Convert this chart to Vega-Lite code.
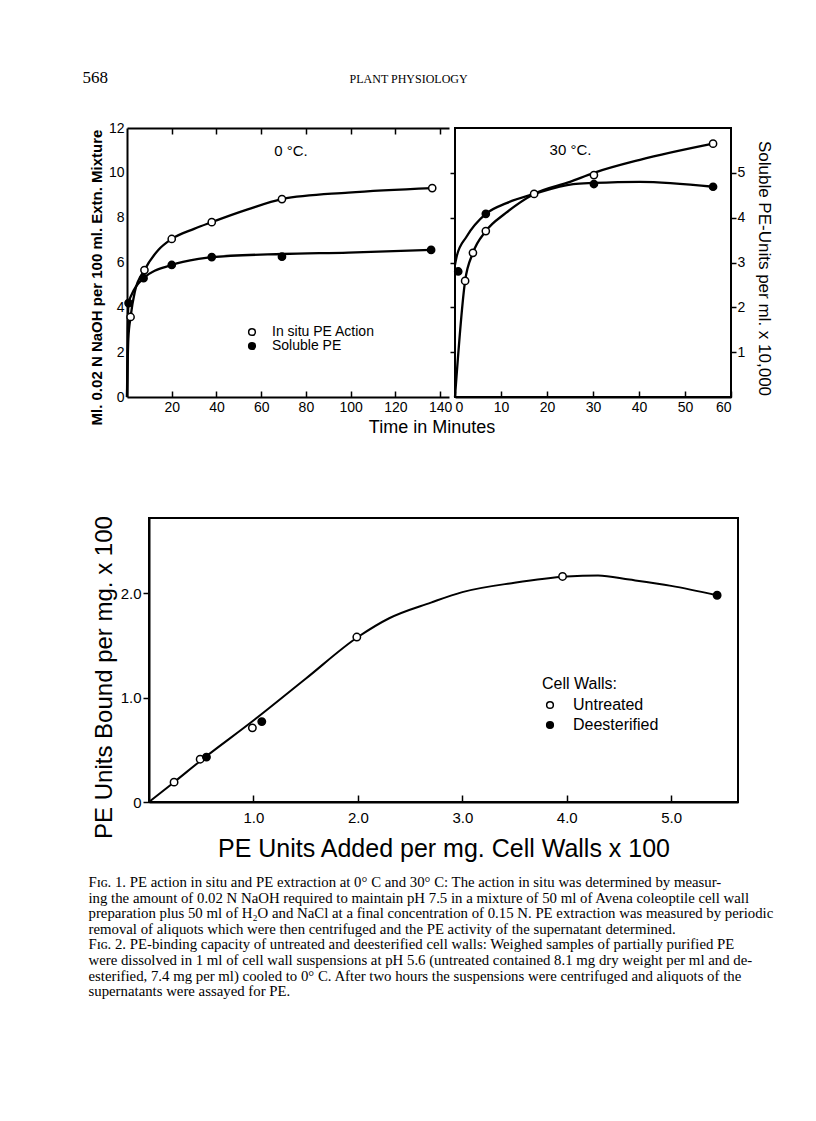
{
  "$schema": "https://vega.github.io/schema/vega-lite/v6.json",
  "background": "white",
  "padding": {"left": 82, "top": 69, "right": 0, "bottom": 0},
  "title": {"text": "568", "anchor": "start", "frame": "bounds", "font": "Liberation Serif", "fontSize": 17, "fontWeight": "normal", "color": "black", "offset": -14, "dx": -5},
  "datasets": {
    "fig1pts": [
      {"panel": "0", "series": "In situ PE Action", "t": 1.6, "y": 3.57},
      {"panel": "0", "series": "In situ PE Action", "t": 7.8, "y": 5.66},
      {"panel": "0", "series": "In situ PE Action", "t": 20, "y": 7.05},
      {"panel": "0", "series": "In situ PE Action", "t": 37.9, "y": 7.8},
      {"panel": "0", "series": "In situ PE Action", "t": 69.3, "y": 8.83},
      {"panel": "0", "series": "In situ PE Action", "t": 136.5, "y": 9.32},
      {"panel": "0", "series": "Soluble PE", "t": 0.7, "y": 4.19},
      {"panel": "0", "series": "Soluble PE", "t": 7.4, "y": 5.3},
      {"panel": "0", "series": "Soluble PE", "t": 20, "y": 5.89},
      {"panel": "0", "series": "Soluble PE", "t": 37.9, "y": 6.24},
      {"panel": "0", "series": "Soluble PE", "t": 69.3, "y": 6.26},
      {"panel": "0", "series": "Soluble PE", "t": 136, "y": 6.56},
      {"panel": "30", "series": "In situ PE Action", "t": 2.2, "y": 5.18},
      {"panel": "30", "series": "In situ PE Action", "t": 3.9, "y": 6.43},
      {"panel": "30", "series": "In situ PE Action", "t": 6.7, "y": 7.4},
      {"panel": "30", "series": "In situ PE Action", "t": 17.2, "y": 9.06},
      {"panel": "30", "series": "In situ PE Action", "t": 30.2, "y": 9.9},
      {"panel": "30", "series": "In situ PE Action", "t": 56.1, "y": 11.3},
      {"panel": "30", "series": "Soluble PE", "t": 0.7, "y": 5.6},
      {"panel": "30", "series": "Soluble PE", "t": 6.7, "y": 8.17},
      {"panel": "30", "series": "Soluble PE", "t": 30.2, "y": 9.5},
      {"panel": "30", "series": "Soluble PE", "t": 56.1, "y": 9.38}
    ],
    "fig1curves": [
      {"panel": "0", "series": "In situ PE Action", "t": 0, "y": 0},
      {"panel": "0", "series": "In situ PE Action", "t": 0.6, "y": 2.6},
      {"panel": "0", "series": "In situ PE Action", "t": 1.6, "y": 3.57},
      {"panel": "0", "series": "In situ PE Action", "t": 3.5, "y": 4.7},
      {"panel": "0", "series": "In situ PE Action", "t": 7.8, "y": 5.66},
      {"panel": "0", "series": "In situ PE Action", "t": 14, "y": 6.56},
      {"panel": "0", "series": "In situ PE Action", "t": 20, "y": 7.05},
      {"panel": "0", "series": "In situ PE Action", "t": 30, "y": 7.5},
      {"panel": "0", "series": "In situ PE Action", "t": 37.9, "y": 7.8},
      {"panel": "0", "series": "In situ PE Action", "t": 54, "y": 8.37},
      {"panel": "0", "series": "In situ PE Action", "t": 69.3, "y": 8.83},
      {"panel": "0", "series": "In situ PE Action", "t": 99, "y": 9.12},
      {"panel": "0", "series": "In situ PE Action", "t": 136.5, "y": 9.32},
      {"panel": "0", "series": "Soluble PE", "t": 0, "y": 0},
      {"panel": "0", "series": "Soluble PE", "t": 0.3, "y": 3.0},
      {"panel": "0", "series": "Soluble PE", "t": 0.7, "y": 4.19},
      {"panel": "0", "series": "Soluble PE", "t": 2, "y": 4.55},
      {"panel": "0", "series": "Soluble PE", "t": 7.4, "y": 5.3},
      {"panel": "0", "series": "Soluble PE", "t": 20, "y": 5.89},
      {"panel": "0", "series": "Soluble PE", "t": 32, "y": 6.16},
      {"panel": "0", "series": "Soluble PE", "t": 37.9, "y": 6.24},
      {"panel": "0", "series": "Soluble PE", "t": 69.3, "y": 6.38},
      {"panel": "0", "series": "Soluble PE", "t": 99, "y": 6.44},
      {"panel": "0", "series": "Soluble PE", "t": 136, "y": 6.56},
      {"panel": "30", "series": "In situ PE Action", "t": 0, "y": 0},
      {"panel": "30", "series": "In situ PE Action", "t": 2.2, "y": 5.18},
      {"panel": "30", "series": "In situ PE Action", "t": 3.9, "y": 6.43},
      {"panel": "30", "series": "In situ PE Action", "t": 6.7, "y": 7.4},
      {"panel": "30", "series": "In situ PE Action", "t": 11, "y": 8.2},
      {"panel": "30", "series": "In situ PE Action", "t": 17.2, "y": 9.06},
      {"panel": "30", "series": "In situ PE Action", "t": 25, "y": 9.6},
      {"panel": "30", "series": "In situ PE Action", "t": 30.2, "y": 10.0},
      {"panel": "30", "series": "In situ PE Action", "t": 40.2, "y": 10.58},
      {"panel": "30", "series": "In situ PE Action", "t": 56.1, "y": 11.3},
      {"panel": "30", "series": "Soluble PE", "t": 0, "y": 5.9},
      {"panel": "30", "series": "Soluble PE", "t": 0.4, "y": 6.3},
      {"panel": "30", "series": "Soluble PE", "t": 2.5, "y": 7.15},
      {"panel": "30", "series": "Soluble PE", "t": 6.7, "y": 8.17},
      {"panel": "30", "series": "Soluble PE", "t": 11.2, "y": 8.65},
      {"panel": "30", "series": "Soluble PE", "t": 17.2, "y": 9.06},
      {"panel": "30", "series": "Soluble PE", "t": 25.7, "y": 9.5},
      {"panel": "30", "series": "Soluble PE", "t": 30.2, "y": 9.55},
      {"panel": "30", "series": "Soluble PE", "t": 40.2, "y": 9.6},
      {"panel": "30", "series": "Soluble PE", "t": 56.1, "y": 9.38}
    ],
    "fig2pts": [
      {"walls": "Untreated", "x": 0.24, "y": 0.19},
      {"walls": "Untreated", "x": 0.49, "y": 0.41},
      {"walls": "Untreated", "x": 0.99, "y": 0.71},
      {"walls": "Untreated", "x": 1.99, "y": 1.58},
      {"walls": "Untreated", "x": 3.96, "y": 2.16},
      {"walls": "Deesterified", "x": 0.55, "y": 0.43},
      {"walls": "Deesterified", "x": 1.08, "y": 0.77},
      {"walls": "Deesterified", "x": 5.44, "y": 1.98}
    ],
    "fig2curve": [
      {"x": 0, "y": 0},
      {"x": 0.24, "y": 0.19},
      {"x": 0.5, "y": 0.4},
      {"x": 1.0, "y": 0.78},
      {"x": 1.5, "y": 1.18},
      {"x": 2.0, "y": 1.58},
      {"x": 2.3, "y": 1.76},
      {"x": 2.7, "y": 1.91},
      {"x": 3.0, "y": 2.01},
      {"x": 3.5, "y": 2.1},
      {"x": 4.0, "y": 2.16},
      {"x": 4.3, "y": 2.17},
      {"x": 4.6, "y": 2.13},
      {"x": 5.0, "y": 2.07},
      {"x": 5.44, "y": 1.98}
    ],
    "none": []
  },
  "vconcat": [
    {
      "title": {"text": "PLANT PHYSIOLOGY", "anchor": "middle", "frame": "bounds", "font": "Liberation Serif", "fontSize": 12, "fontWeight": "normal", "color": "black", "offset": 35, "dx": -23},
      "bounds": "flush",
      "spacing": 6,
      "resolve": {"scale": {"fill": "independent", "x": "independent", "y": "independent"}, "legend": {"fill": "independent"}},
      "hconcat": [
        {
          "width": 322,
          "height": 269,
          "title": {"text": "0 °C.", "orient": "top", "anchor": "middle", "frame": "group", "offset": -24, "dy": 21, "baseline": "middle", "fontSize": 15, "fontWeight": "normal", "dx": 3},
          "resolve": {"axis": {"x": "independent", "y": "independent"}},
          "layer": [
            {
              "data": {"name": "fig1curves"},
              "transform": [{"filter": "datum.panel == '0'"}],
              "mark": {"type": "line", "interpolate": "monotone", "color": "black", "strokeWidth": 2.3},
              "encoding": {
                "x": {"field": "t", "type": "quantitative", "scale": {"domain": [0, 144], "nice": false, "zero": false},
                  "axis": {"orient": "bottom", "values": [20, 40, 60, 80, 100, 120, 140], "tickSize": -6, "tickWidth": 1.5, "labelPadding": 9, "labelFontSize": 14, "domainWidth": 2, "title": "Time in Minutes", "titleX": 304.5, "titleFontSize": 18, "titleFontWeight": "normal", "titlePadding": 4}},
                "y": {"field": "y", "type": "quantitative", "scale": {"domain": [0, 12], "nice": false},
                  "axis": {"orient": "left", "values": [0, 2, 4, 6, 8, 10, 12], "ticks": false, "labelPadding": 3, "labelFontSize": 14, "domainWidth": 2, "title": "Ml. 0.02 N NaOH per 100 ml. Extn. Mixture", "titleFontSize": 15, "titleFontWeight": "bold", "titleY": 149, "titlePadding": 4}},
                "detail": {"field": "series"}
              }
            },
            {
              "data": {"name": "fig1pts"},
              "transform": [{"filter": "datum.panel == '0'"}],
              "mark": {"type": "point", "shape": "circle", "filled": true, "size": 52, "stroke": "black", "strokeWidth": 1.5, "opacity": 1},
              "encoding": {
                "x": {"field": "t", "type": "quantitative",
                  "axis": {"orient": "top", "values": [20, 40, 60, 80, 100, 120, 140], "tickSize": -6, "tickWidth": 1.5, "labels": false, "domainWidth": 2, "title": null}},
                "y": {"field": "y", "type": "quantitative", "axis": null},
                "fill": {"field": "series", "type": "nominal", "scale": {"domain": ["In situ PE Action", "Soluble PE"], "range": ["white", "black"]},
                  "legend": {"orient": "none", "legendX": 118, "legendY": 197, "title": null, "labelFontSize": 14, "symbolType": "circle", "symbolSize": 45, "symbolStrokeColor": "black", "symbolStrokeWidth": 1.5, "labelOffset": 13, "rowPadding": -1.5}}
              }
            }
          ]
        },
        {
          "width": 276,
          "height": 269,
          "view": {"stroke": "black", "strokeWidth": 2},
          "title": {"text": "30 °C.", "orient": "top", "anchor": "middle", "frame": "group", "offset": -24, "dy": 13, "baseline": "middle", "fontSize": 15, "fontWeight": "normal", "dx": -22.5},
          "resolve": {"axis": {"x": "independent", "y": "independent"}},
          "layer": [
            {
              "data": {"name": "fig1curves"},
              "transform": [{"filter": "datum.panel == '30'"}],
              "mark": {"type": "line", "interpolate": "monotone", "color": "black", "strokeWidth": 2.3},
              "encoding": {
                "x": {"field": "t", "type": "quantitative", "scale": {"domain": [0, 60], "nice": false, "zero": false},
                  "axis": {"orient": "bottom", "values": [0, 10, 20, 30, 40, 50, 60], "tickSize": -6, "tickWidth": 1.5, "labelPadding": 9, "labelFontSize": 14, "domainWidth": 2, "title": null}},
                "y": {"field": "y", "type": "quantitative", "scale": {"domain": [0, 12], "nice": false},
                  "axis": {"orient": "left", "values": [2, 4, 6, 8, 10], "tickSize": 5, "tickWidth": 1.5, "labels": false, "domain": false, "title": null}},
                "detail": {"field": "series"}
              }
            },
            {
              "data": {"name": "fig1pts"},
              "transform": [{"filter": "datum.panel == '30'"}],
              "mark": {"type": "point", "shape": "circle", "filled": true, "size": 52, "stroke": "black", "strokeWidth": 1.5, "opacity": 1},
              "encoding": {
                "x": {"field": "t", "type": "quantitative", "axis": null},
                "y": {"field": "y", "type": "quantitative",
                  "axis": {"orient": "right", "values": [2, 4, 6, 8, 10], "labelExpr": "format(datum.value / 2, 'd')", "tickSize": 5, "tickWidth": 1.5, "labelPadding": 1, "labelFontSize": 14, "domain": false, "title": "Soluble PE-Units per ml. x 10,000", "titleAngle": 90, "titleFontSize": 17, "titleFontWeight": "normal", "titlePadding": 10, "titleY": 140}},
                "fill": {"field": "series", "type": "nominal", "scale": {"domain": ["In situ PE Action", "Soluble PE"], "range": ["white", "black"]}, "legend": null}
              }
            }
          ]
        }
      ]
    },
    {
      "bounds": "flush",
      "spacing": 0,
      "hconcat": [
        {
          "width": 22,
          "height": 10,
          "data": {"name": "none"},
          "mark": {"type": "point", "opacity": 0},
          "encoding": {}
        },
        {
          "width": 589,
          "height": 284,
          "view": {"stroke": "black", "strokeWidth": 2},
          "title": {
            "text": [
              "\u00a0\u00a0\u00a0\u00a0\u00a0Fɪɢ. 1.  PE action in situ and PE extraction at 0° C and 30° C:  The action in situ was determined by measur-",
              "ing the amount of 0.02 N NaOH required to maintain pH 7.5 in a mixture of 50 ml of Avena coleoptile cell wall",
              "preparation plus 50 ml of H₂O and NaCl at a final concentration of 0.15 N.  PE extraction was measured by periodic",
              "removal of aliquots which were then centrifuged and the PE activity of the supernatant determined.",
              "\u00a0\u00a0\u00a0\u00a0\u00a0Fɪɢ. 2.  PE-binding capacity of untreated and deesterified cell walls:  Weighed samples of partially purified PE",
              "were dissolved in 1 ml of cell wall suspensions at pH 5.6 (untreated contained 8.1 mg dry weight per ml and de-",
              "esterified, 7.4 mg per ml) cooled to 0° C.  After two hours the suspensions were centrifuged and aliquots of the",
              "supernatants were assayed for PE."
            ],
            "orient": "bottom", "anchor": "start", "frame": "group", "font": "Liberation Serif", "fontSize": 14.8, "fontWeight": "normal", "lineHeight": 15.6, "offset": 14, "dx": -60.5, "color": "black"
          },
          "layer": [
            {
              "data": {"name": "fig2curve"},
              "mark": {"type": "line", "interpolate": "monotone", "color": "black", "strokeWidth": 2},
              "encoding": {
                "x": {"field": "x", "type": "quantitative", "scale": {"domain": [0, 5.64], "nice": false, "zero": false},
                  "axis": {"values": [1, 2, 3, 4, 5], "format": ".1f", "tickSize": -7, "tickWidth": 1.5, "labelPadding": 15, "labelFontSize": 15, "domainWidth": 2, "title": "PE Units Added per mg. Cell Walls x 100", "titleFontSize": 25, "titleFontWeight": "normal", "titlePadding": 11}},
                "y": {"field": "y", "type": "quantitative", "scale": {"domain": [0, 2.72], "nice": false},
                  "axis": {"values": [0, 1, 2], "labelExpr": "datum.value == 0 ? '0' : format(datum.value, '.1f')", "tickSize": 6, "tickWidth": 1.5, "labelPadding": 2, "labelFontSize": 15, "domainWidth": 2, "title": "PE Units Bound per mg. x 100", "titleFontSize": 24, "titleFontWeight": "normal", "titleY": 159, "titlePadding": 4}}
              }
            },
            {
              "data": {"name": "fig2pts"},
              "mark": {"type": "point", "shape": "circle", "filled": true, "size": 55, "stroke": "black", "strokeWidth": 1.5, "opacity": 1},
              "encoding": {
                "x": {"field": "x", "type": "quantitative"},
                "y": {"field": "y", "type": "quantitative"},
                "fill": {"field": "walls", "type": "nominal", "scale": {"domain": ["Untreated", "Deesterified"], "range": ["white", "black"]},
                  "legend": {"orient": "none", "legendX": 415, "legendY": 158, "title": "Cell Walls:", "titleFontSize": 16, "titleFontWeight": "normal", "titlePadding": 5, "labelFontSize": 16, "symbolType": "circle", "symbolSize": 45, "symbolStrokeColor": "black", "symbolStrokeWidth": 1.5, "labelOffset": 15, "rowPadding": 4}}
              }
            }
          ]
        }
      ]
    }
  ],
  "spacing": 78,
  "resolve": {"scale": {"fill": "independent"}, "legend": {"fill": "independent"}},
  "config": {
    "font": "Liberation Sans",
    "view": {"stroke": null},
    "axis": {"grid": false, "domainColor": "black", "tickColor": "black", "labelColor": "black", "titleColor": "black", "labelFont": "Liberation Sans", "titleFont": "Liberation Sans"},
    "legend": {"labelColor": "black", "titleColor": "black", "labelFont": "Liberation Sans", "titleFont": "Liberation Sans"},
    "title": {"color": "black"}
  }
}
